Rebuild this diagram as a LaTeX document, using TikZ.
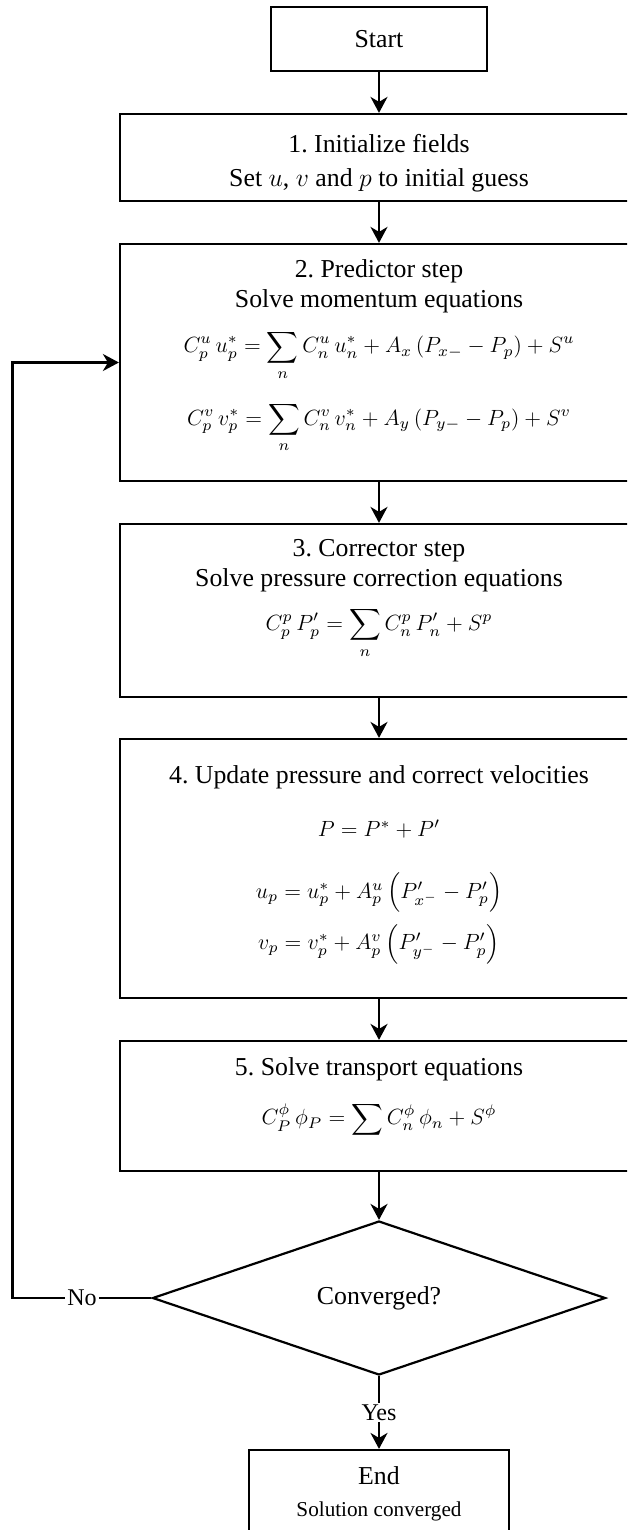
\documentclass[tikz,border=0pt]{standalone}
\usepackage{fontspec}
\setmainfont{Liberation Serif}
\usetikzlibrary{arrows.meta,shapes.geometric}
% scalable math fonts
\DeclareFontShape{OML}{cmm}{m}{it}{<-6>cmmi5<6-8.5>cmmi7<8.5-11>cmmi10<11->cmmi12}{}
\DeclareFontShape{OMS}{cmsy}{m}{n}{<-6>cmsy5<6-8.5>cmsy7<8.5->cmsy10}{}
\DeclareFontShape{OT1}{cmr}{m}{n}{<-6>cmr5<6-8.5>cmr7<8.5-11>cmr10<11->cmr12}{}
\DeclareFontShape{OMX}{cmex}{m}{n}{<->cmex10}{}
\frenchspacing
\newcommand\eqsize{\fontsize{11}{13}\selectfont}
\newcommand\padbelow[2]{\raisebox{0pt}[\height][\dimexpr\depth+#1\relax]{#2}}
\newcommand\padabove[2]{\raisebox{0pt}[\dimexpr\height+#1\relax]{#2}}

\begin{document}
\begin{tikzpicture}[
  x=0.5pt, y=-0.5pt,
  font=\fontsize{12.9}{15}\selectfont,
  b/.style={draw,line width=1.1pt,align=center,inner sep=0pt,minimum width=259pt},
  conv/.style={diamond,draw,line width=1.1pt,inner sep=0pt,minimum width=226.5pt,minimum height=77pt},
  arr/.style={-{Stealth[length=8pt,width=8.5pt,inset=2.5pt]},line width=1.1pt},
  lbl/.style={fill=white,inner sep=1pt,font=\fontsize{12}{14}\selectfont}
]
\path[use as bounding box,clip] (0,0) rectangle (627,1530);
\node[b,minimum width=108pt,minimum height=32pt] (start) at (379,39) {Start};
\node[b,minimum height=43.5pt] (init) at (379,157.5)
  {\padabove{6pt}{1. Initialize fields}\\[2pt]Set $u$, $v$ and $p$ to initial guess};
\node[b,minimum height=118.5pt] (pred) at (379,362.5)
  {2. Predictor step\\Solve momentum equations\\[7.5pt]
   {\eqsize $\displaystyle C_p^u\,u_p^* = \sum_n C_n^u\,u_n^* + A_x\,(P_{x-} - P_p) + S^u$}\\[10pt]
   {\eqsize\padbelow{6pt}{$\displaystyle C_p^v\,v_p^* = \sum_n C_n^v\,v_n^* + A_y\,(P_{y-} - P_p) + S^v$}}};
\node[b,minimum height=86.5pt] (corr) at (379,610.5)
  {3. Corrector step\\Solve pressure correction equations\\[7pt]
   {\eqsize\padbelow{11.5pt}{$\displaystyle C_p^p\,P_p' = \sum_n C_n^p\,P_n' + S^p$}}};
\node[b,minimum height=129.5pt] (upd) at (379,868.5)
  {4. Update pressure and correct velocities\\[11.5pt]
   {\eqsize $P = P^* + P'$}\\[16pt]
   {\eqsize $u_p = u_p^* + A_p^u\left(\vphantom{P'_{y^-}}P'_{x^-} - P'_p\right)$}\\[5pt]
   {\eqsize\padbelow{4pt}{$v_p = v_p^* + A_p^v\left(P'_{y^-} - P'_p\right)$}}};
\node[b,minimum height=65pt] (trans) at (379,1106)
  {5. Solve transport equations\\[9.5pt]
   {\eqsize\padbelow{8.5pt}{$\displaystyle C_P^\phi\,\phi_P = \sum C_n^\phi\,\phi_n + S^\phi$}}};
\node[conv] (conv) at (379,1298) {Converged?};
\node[b,minimum width=130pt,minimum height=44pt] (end) at (379,1494)
  {End\\[1pt]{\fontsize{10.6}{12}\selectfont Solution converged}};
\coordinate (ret) at (12.5,1298);

\draw[arr] (start) -- (init);
\draw[arr] (init) -- (pred);
\draw[arr] (pred) -- (corr);
\draw[arr] (corr) -- (upd);
\draw[arr] (upd) -- (trans);
\draw[arr] (trans) -- (conv);
\draw[arr] (conv) -- node[lbl]{Yes} (end);
\draw[arr] (conv.west) -- node[lbl]{No} (ret) |- (pred.west);
\end{tikzpicture}
\end{document}
